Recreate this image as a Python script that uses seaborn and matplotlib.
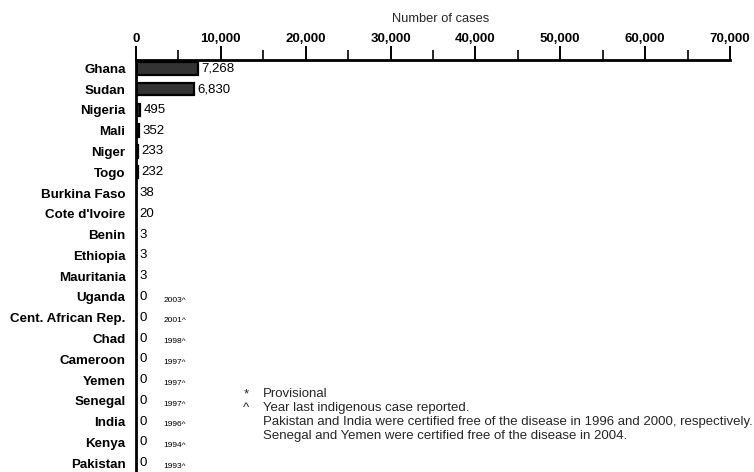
import matplotlib
matplotlib.use("Agg")
import matplotlib.pyplot as plt
import seaborn as sns
import pandas as pd
from matplotlib.ticker import MultipleLocator, FuncFormatter

countries = ["Ghana", "Sudan", "Nigeria", "Mali", "Niger", "Togo", "Burkina Faso",
             "Cote d'Ivoire", "Benin", "Ethiopia", "Mauritania", "Uganda",
             "Cent. African Rep.", "Chad", "Cameroon", "Yemen", "Senegal",
             "India", "Kenya", "Pakistan"]
cases = [7268, 6830, 495, 352, 233, 232, 38, 20, 3, 3, 3,
         0, 0, 0, 0, 0, 0, 0, 0, 0]
last_case_countries = ["Uganda", "Cent. African Rep.", "Chad", "Cameroon", "Yemen",
                       "Senegal", "India", "Kenya", "Pakistan"]
last_case_years = ["2003^", "2001^", "1998^", "1997^", "1997^", "1997^", "1996^", "1994^", "1993^"]
footnote_marks = ["*", "^", "", ""]
footnote_texts = ["Provisional",
                  "Year last indigenous case reported.",
                  "Pakistan and India were certified free of the disease in 1996 and 2000, respectively.",
                  "Senegal and Yemen were certified free of the disease in 2004."]
axis_label = "Number of cases"

df = pd.DataFrame({"country": countries, "cases": cases})

sns.set_theme(style="white")
plt.rcParams["font.family"] = ["Liberation Sans", "DejaVu Sans"]

W, H = 754, 472
fig = plt.figure(figsize=(W / 100, H / 100), dpi=100)
ax_left, ax_right, ax_top = 136, 730, 60
ax = fig.add_axes([ax_left / W, 0, (ax_right - ax_left) / W, (H - ax_top) / H])

sns.barplot(data=df, x="cases", y="country", order=countries, color="#333333",
            saturation=1, edgecolor="black", linewidth=1.6, width=0.6, ax=ax)

ax.set_xlim(0, 70000)
ax.set_ylim(19.42, -0.40)

ax.xaxis.tick_top()
ax.xaxis.set_label_position("top")
ax.xaxis.set_major_locator(MultipleLocator(10000))
ax.xaxis.set_minor_locator(MultipleLocator(5000))
ax.xaxis.set_major_formatter(FuncFormatter(lambda v, p: f"{int(v):,}"))
ax.tick_params(axis="x", which="major", direction="out", length=10, width=1.4,
               pad=0.8, labelsize=9.5, colors="black")
ax.tick_params(axis="x", which="minor", direction="out", length=7, width=1.4, top=True)
for lab in ax.get_xticklabels():
    lab.set_fontweight("bold")
ax.set_xlabel(axis_label, fontsize=9.3)
ax.xaxis.set_label_coords((441 - ax_left) / (ax_right - ax_left), 1.0 + (ax_top - 19) / (H - ax_top))
ax.xaxis.label.set_va("center")

ax.set_ylabel("")
ax.tick_params(axis="y", length=0, pad=7.5, labelsize=9.6, colors="black")
for lab in ax.get_yticklabels():
    lab.set_fontweight("bold")

for s in ["bottom", "right"]:
    ax.spines[s].set_visible(False)
for s in ["top", "left"]:
    ax.spines[s].set_linewidth(2)
    ax.spines[s].set_color("black")

ax.bar_label(ax.containers[0], labels=[f"{v:,}" for v in cases], padding=2.5,
             fontsize=9.5, color="black")

for c, yr in zip(last_case_countries, last_case_years):
    idx = countries.index(c)
    ax.text(3200, idx + 0.15, yr, fontsize=6, va="center", ha="left", color="black")

y0 = 394
for i, (m, t) in enumerate(zip(footnote_marks, footnote_texts)):
    yy = 1 - (y0 + 14 * i) / H
    if m:
        fig.text(246 / W, yy, m, fontsize=9.5, va="center", ha="center")
    fig.text(263 / W, yy, t, fontsize=9.5, va="center", ha="left")

fig.savefig("out.png", dpi=100)
